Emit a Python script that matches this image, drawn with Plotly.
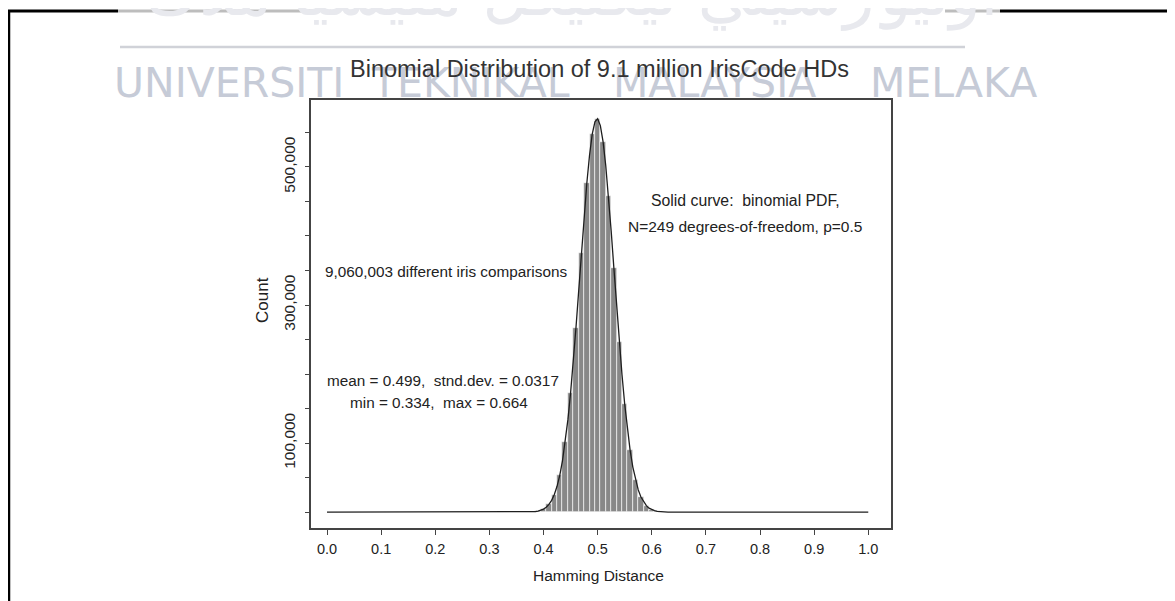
import plotly.graph_objects as go

# ---------------- data ----------------
hd_bins = [0.39, 0.40, 0.41, 0.42, 0.43, 0.44, 0.45, 0.46, 0.47, 0.48, 0.49, 0.50,
           0.51, 0.52, 0.53, 0.54, 0.55, 0.56, 0.57, 0.58, 0.59, 0.60, 0.61]
bin_counts = [1500, 4300, 11100, 25500, 53300, 100900, 172600, 267400, 375100, 476300,
              547500, 570000, 536700, 457700, 353400, 247000, 156300, 89500, 46400,
              21800, 9300, 3600, 1200]

curve_x = [0.0, 0.380, 0.385, 0.390, 0.395, 0.400, 0.405, 0.410, 0.415, 0.420, 0.425,
           0.430, 0.435, 0.440, 0.445, 0.450, 0.455, 0.460, 0.465, 0.470, 0.475,
           0.480, 0.485, 0.490, 0.495, 0.500, 0.505, 0.510, 0.515, 0.520, 0.525,
           0.530, 0.535, 0.540, 0.545, 0.550, 0.555, 0.560, 0.565, 0.570, 0.575,
           0.580, 0.585, 0.590, 0.595, 0.600, 0.605, 0.610, 0.615, 0.620, 0.630, 1.0]
curve_counts = [0, 300, 800, 1500, 2600, 4300, 7000, 11100, 17000, 25500, 37400,
                53300, 74300, 100900, 133600, 172600, 217500, 267400, 320700, 375100, 428000,
                476300, 517000, 547500, 565500, 570000, 559900, 536700, 501800, 457700, 407200,
                353400, 299100, 247000, 198900, 156300, 119800, 89500, 65300, 46400, 32200,
                21800, 14400, 9300, 5800, 3600, 2100, 1200, 700, 400, 100, 0]

x_ticks = [0.0, 0.1, 0.2, 0.3, 0.4, 0.5, 0.6, 0.7, 0.8, 0.9, 1.0]
x_tick_labels = ["0.0", "0.1", "0.2", "0.3", "0.4", "0.5", "0.6", "0.7", "0.8", "0.9", "1.0"]
y_ticks = [0, 50000, 100000, 150000, 200000, 250000, 300000, 350000, 400000, 450000, 500000, 550000]
y_tick_labels = ["", "", "100,000", "", "", "", "300,000", "", "", "", "500,000", ""]

title_text = "Binomial Distribution of 9.1 million IrisCode HDs"
x_title = "Hamming Distance"
y_title = "Count"
note_curve_1 = "Solid curve:\u00a0 binomial PDF,"
note_curve_2 = "N=249 degrees-of-freedom, p=0.5"
note_count = "9,060,003 different iris comparisons"
note_stats_1 = "mean = 0.499,\u00a0 stnd.dev. = 0.0317"
note_stats_2 = "min = 0.334,\u00a0 max = 0.664"
watermark_words = ["UNIVERSITI", "TEKNIKAL", "MALAYSIA", "MELAKA"]
watermark_jawi = "اونيۏرسيتي تيكنيكل مليسيا ملاك"

# ---------------- layout geometry (page pixels; the page body has an 8px margin) ----------------
OFF = 8
W, H = 1175 - OFF, 601 - OFF
L, T = 311, 100            # plot area left/top on the page
PW, PH = 580, 428          # plot area size
ML, MT = L - OFF, T - OFF
MR, MB = W - ML - PW, H - MT - PH


def px(xp):
    return (xp - L) / PW


def py(yp):
    return 1 - (yp - T) / PH


FONT = "Liberation Sans, Arial, Helvetica, sans-serif"
TXT = "#222222"

fig = go.Figure()
fig.add_trace(go.Bar(
    x=hd_bins, y=bin_counts, width=0.01,
    marker=dict(color="#888888", line=dict(color="white", width=0.6)),
    showlegend=False, hoverinfo="skip"))
fig.add_trace(go.Scatter(
    x=curve_x, y=curve_counts, mode="lines",
    line=dict(color="#1e1e1e", width=1.3),
    showlegend=False, hoverinfo="skip"))


def note(x, y, text, size, xanchor="center", color=TXT, family=FONT, angle=0):
    return dict(x=px(x), y=py(y), xref="paper", yref="paper", text=text, showarrow=False,
                font=dict(family=family, size=size, color=color), textangle=angle,
                xanchor=xanchor, yanchor="middle")


annotations = [note(572, -6, watermark_jawi, 64, color="#e8e9ee", family="DejaVu Sans")]
for word, cx in zip(watermark_words, [229, 470, 714, 953]):
    annotations.append(note(cx, 83, word, 41, color="#c6cbd7", family="DejaVu Sans"))
annotations += [
    note(599, 69, title_text, 23.5, color="#333333"),
    note(745, 200, note_curve_1, 15.8),
    note(745, 226, note_curve_2, 15.5),
    note(323, 271, note_count, 15.3, xanchor="left"),
    note(443, 380, note_stats_1, 15.3),
    note(439, 402, note_stats_2, 15.3),
    note(598, 575, x_title, 15.5),
    note(262, 300, y_title, 17, angle=-90),
]

shapes = [
    # outer page frame
    dict(type="line", xref="paper", yref="paper", x0=px(9), x1=px(9), y0=py(10), y1=py(620),
         line=dict(color="black", width=2.5)),
    dict(type="line", xref="paper", yref="paper", x0=px(8), x1=px(118), y0=py(11), y1=py(11),
         line=dict(color="black", width=3)),
    dict(type="line", xref="paper", yref="paper", x0=px(118), x1=px(320), y0=py(11), y1=py(11),
         line=dict(color="#bdbdbd", width=3)),
    dict(type="line", xref="paper", yref="paper", x0=px(945), x1=px(1000), y0=py(11), y1=py(11),
         line=dict(color="#bdbdbd", width=3)),
    dict(type="line", xref="paper", yref="paper", x0=px(1000), x1=px(1190), y0=py(11), y1=py(11),
         line=dict(color="black", width=3)),
    # watermark rule
    dict(type="line", xref="paper", yref="paper", x0=px(120), x1=px(965), y0=py(47), y1=py(47),
         line=dict(color="#d0d2d8", width=2.5)),
]

fig.update_layout(
    width=W, height=H,
    margin=dict(l=ML, r=MR, t=MT, b=MB, autoexpand=False),
    paper_bgcolor="white", plot_bgcolor="white",
    bargap=0, showlegend=False,
    font=dict(family=FONT, color=TXT),
    annotations=annotations, shapes=shapes,
    xaxis=dict(range=[-0.0296, 1.042], tickvals=x_ticks, ticktext=x_tick_labels,
               ticks="outside", ticklen=5, tickwidth=1.2, tickcolor="#444",
               showline=True, linecolor="#444", linewidth=2, mirror=True,
               showgrid=False, zeroline=False, ticklabelstandoff=2,
               tickfont=dict(family=FONT, size=14.5, color=TXT)),
    yaxis=dict(range=[-23000, 597000], tickvals=y_ticks, ticktext=y_tick_labels,
               ticks="outside", ticklen=4, tickwidth=1.2, tickcolor="#444",
               showline=True, linecolor="#444", linewidth=2, mirror=True,
               showgrid=False, zeroline=False, tickangle=-90, ticklabelstandoff=4,
               tickfont=dict(family=FONT, size=15.5, color=TXT)),
)

fig.write_html("out.html")
